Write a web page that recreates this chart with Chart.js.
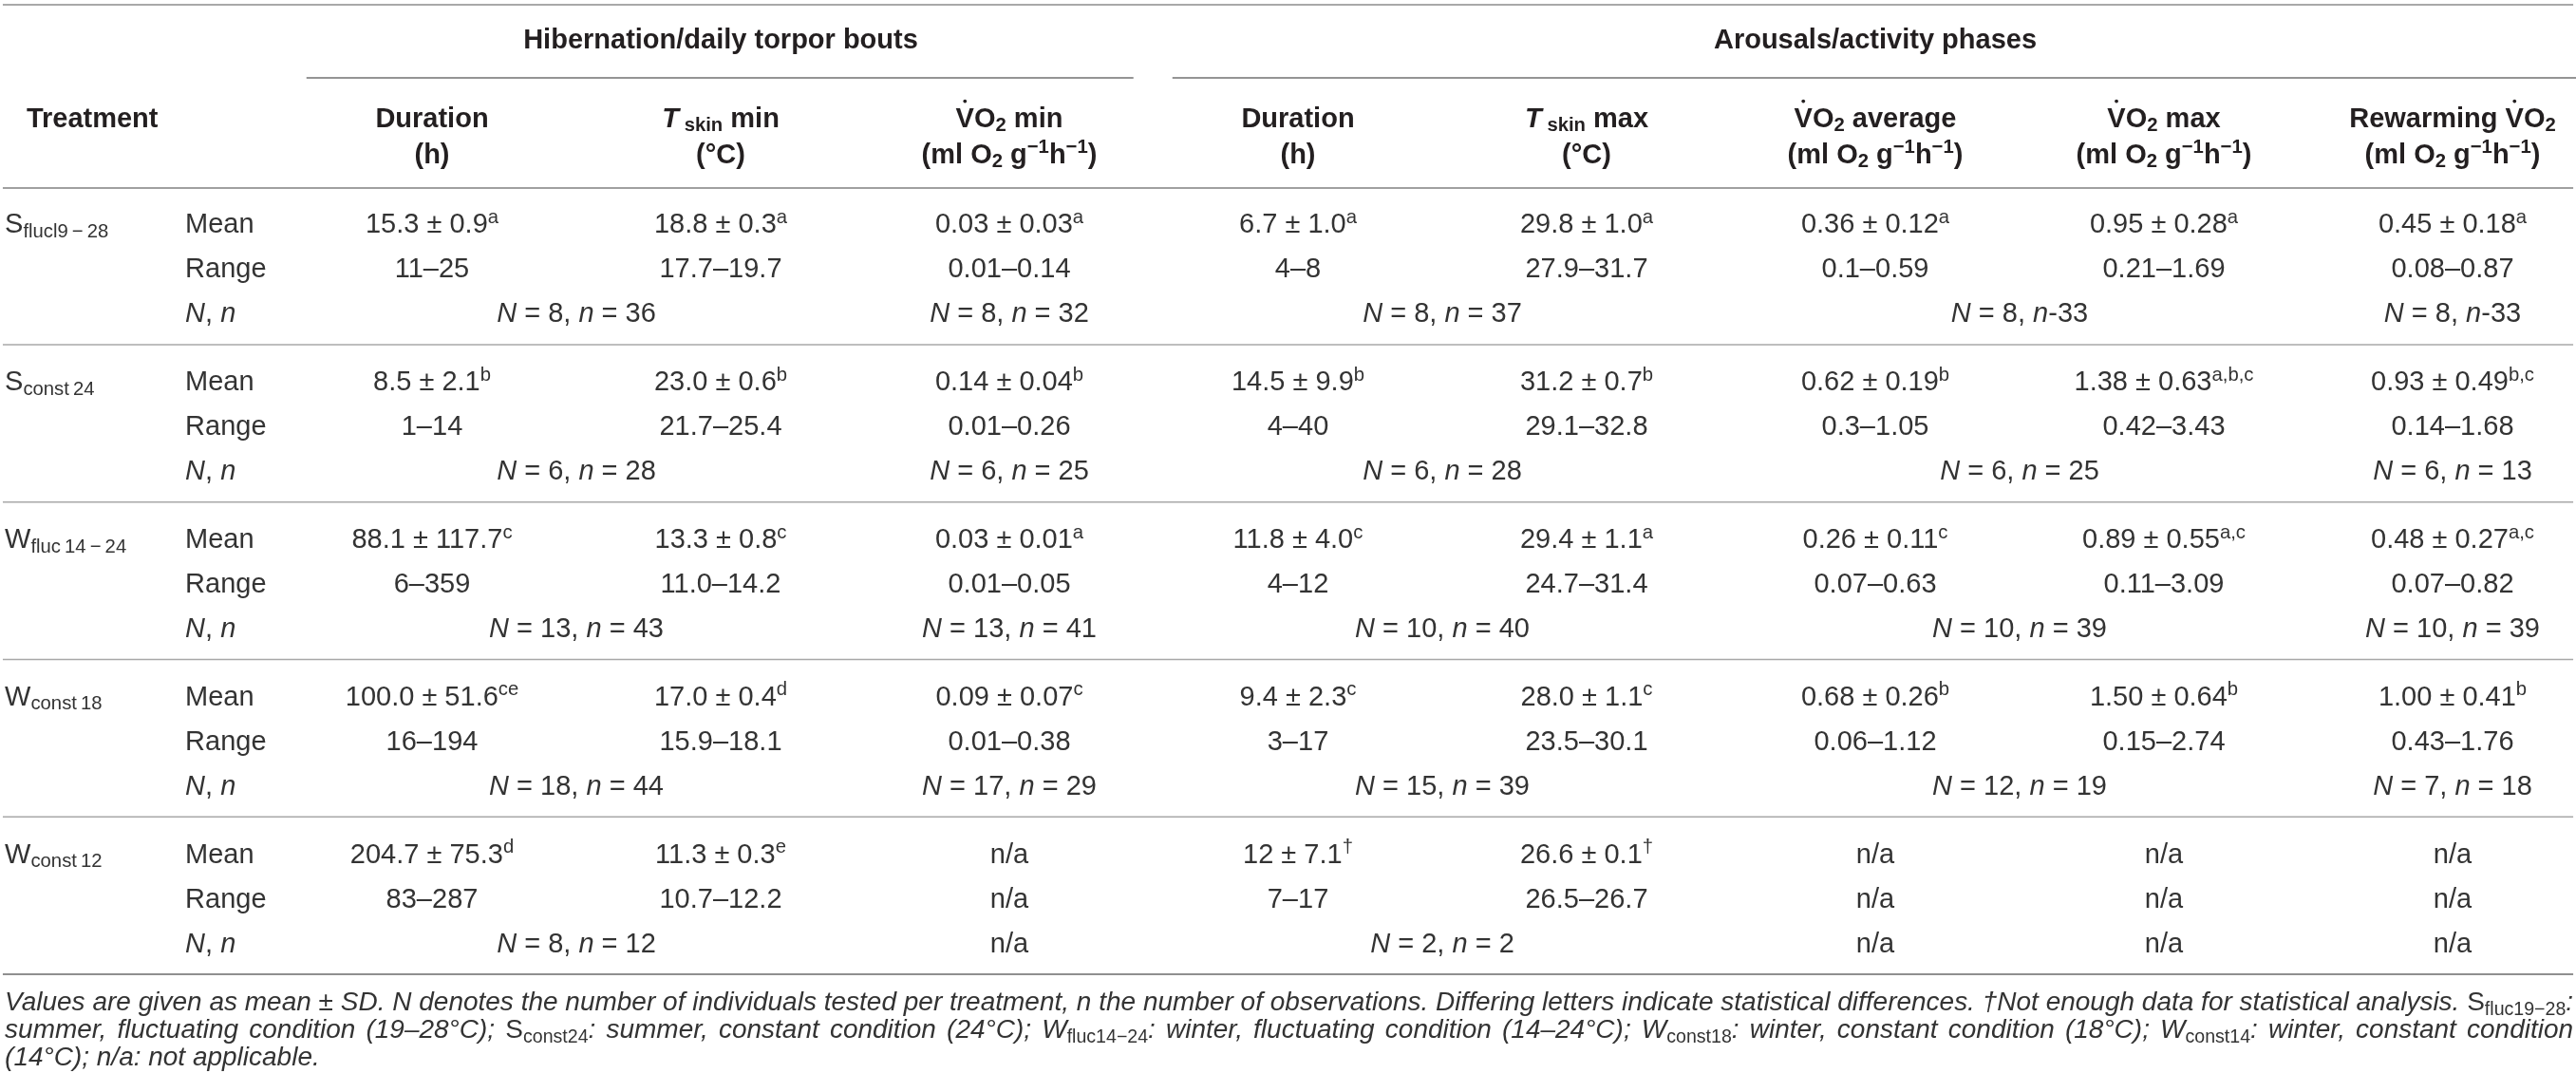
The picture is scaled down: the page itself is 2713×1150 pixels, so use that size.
<!DOCTYPE html>
<html>
<head>
<meta charset="utf-8">
<script src="https://cdn.jsdelivr.net/npm/chart.js@4.4.1/dist/chart.umd.min.js"></script>
<style>
  html, body { margin: 0; padding: 0; background: #ffffff; }
  #c { display: block; }
</style>
</head>
<body>
<canvas id="c" width="2713" height="1150"></canvas>
<script>
// ---------------- DATA ----------------
const groupTitles = [
  ['Hibernation/daily torpor bouts', 0, 2],
  ['Arousals/activity phases', 3, 7]
];
const columnHeaders = [
  ['Duration', '(h)'],
  ['<i>T</i>\u2009_{skin} min', '(°C)'],
  ['V\u0307O_{2} min', '(ml O_{2} g^{\u22121}h^{\u22121})'],
  ['Duration', '(h)'],
  ['<i>T</i>\u2009_{skin} max', '(°C)'],
  ['V\u0307O_{2} average', '(ml O_{2} g^{\u22121}h^{\u22121})'],
  ['V\u0307O_{2} max', '(ml O_{2} g^{\u22121}h^{\u22121})'],
  ['Rewarming V\u0307O_{2}', '(ml O_{2} g^{\u22121}h^{\u22121})']
];
const treatmentHeader = 'Treatment';
const treatments = [
  'S_{flucl9\u2009\u2212\u200928}',
  'S_{const\u200924}',
  'W_{fluc\u200914\u2009\u2212\u200924}',
  'W_{const\u200918}',
  'W_{const\u200912}'
];
const statLabels = ['Mean', 'Range', '<i>N</i>, <i>n</i>'];
const meanValues = [
  ['15.3 ± 0.9^{a}', '18.8 ± 0.3^{a}', '0.03 ± 0.03^{a}', '6.7 ± 1.0^{a}', '29.8 ± 1.0^{a}', '0.36 ± 0.12^{a}', '0.95 ± 0.28^{a}', '0.45 ± 0.18^{a}'],
  ['8.5 ± 2.1^{b}', '23.0 ± 0.6^{b}', '0.14 ± 0.04^{b}', '14.5 ± 9.9^{b}', '31.2 ± 0.7^{b}', '0.62 ± 0.19^{b}', '1.38 ± 0.63^{a,b,c}', '0.93 ± 0.49^{b,c}'],
  ['88.1 ± 117.7^{c}', '13.3 ± 0.8^{c}', '0.03 ± 0.01^{a}', '11.8 ± 4.0^{c}', '29.4 ± 1.1^{a}', '0.26 ± 0.11^{c}', '0.89 ± 0.55^{a,c}', '0.48 ± 0.27^{a,c}'],
  ['100.0 ± 51.6^{ce}', '17.0 ± 0.4^{d}', '0.09 ± 0.07^{c}', '9.4 ± 2.3^{c}', '28.0 ± 1.1^{c}', '0.68 ± 0.26^{b}', '1.50 ± 0.64^{b}', '1.00 ± 0.41^{b}'],
  ['204.7 ± 75.3^{d}', '11.3 ± 0.3^{e}', 'n/a', '12 ± 7.1^{†}', '26.6 ± 0.1^{†}', 'n/a', 'n/a', 'n/a']
];
const rangeValues = [
  ['11–25', '17.7–19.7', '0.01–0.14', '4–8', '27.9–31.7', '0.1–0.59', '0.21–1.69', '0.08–0.87'],
  ['1–14', '21.7–25.4', '0.01–0.26', '4–40', '29.1–32.8', '0.3–1.05', '0.42–3.43', '0.14–1.68'],
  ['6–359', '11.0–14.2', '0.01–0.05', '4–12', '24.7–31.4', '0.07–0.63', '0.11–3.09', '0.07–0.82'],
  ['16–194', '15.9–18.1', '0.01–0.38', '3–17', '23.5–30.1', '0.06–1.12', '0.15–2.74', '0.43–1.76'],
  ['83–287', '10.7–12.2', 'n/a', '7–17', '26.5–26.7', 'n/a', 'n/a', 'n/a']
];
// [text, first column, last column]
const nCounts = [
  [['<i>N</i> = 8, <i>n</i> = 36', 0, 1], ['<i>N</i> = 8, <i>n</i> = 32', 2, 2], ['<i>N</i> = 8, <i>n</i> = 37', 3, 4], ['<i>N</i> = 8, <i>n</i>-33', 5, 6], ['<i>N</i> = 8, <i>n</i>-33', 7, 7]],
  [['<i>N</i> = 6, <i>n</i> = 28', 0, 1], ['<i>N</i> = 6, <i>n</i> = 25', 2, 2], ['<i>N</i> = 6, <i>n</i> = 28', 3, 4], ['<i>N</i> = 6, <i>n</i> = 25', 5, 6], ['<i>N</i> = 6, <i>n</i> = 13', 7, 7]],
  [['<i>N</i> = 13, <i>n</i> = 43', 0, 1], ['<i>N</i> = 13, <i>n</i> = 41', 2, 2], ['<i>N</i> = 10, <i>n</i> = 40', 3, 4], ['<i>N</i> = 10, <i>n</i> = 39', 5, 6], ['<i>N</i> = 10, <i>n</i> = 39', 7, 7]],
  [['<i>N</i> = 18, <i>n</i> = 44', 0, 1], ['<i>N</i> = 17, <i>n</i> = 29', 2, 2], ['<i>N</i> = 15, <i>n</i> = 39', 3, 4], ['<i>N</i> = 12, <i>n</i> = 19', 5, 6], ['<i>N</i> = 7, <i>n</i> = 18', 7, 7]],
  [['<i>N</i> = 8, <i>n</i> = 12', 0, 1], ['n/a', 2, 2], ['<i>N</i> = 2, <i>n</i> = 2', 3, 4], ['n/a', 5, 5], ['n/a', 6, 6], ['n/a', 7, 7]]
];
const footnoteLines = [
  '<i>Values are given as mean ± SD. N denotes the number of individuals tested per treatment, n the number of observations. Differing letters indicate statistical differences. †Not enough data for statistical analysis. </i>S_{fluc19\u221228}<i>:</i>',
  '<i>summer, fluctuating condition (19–28°C); </i>S_{const24}<i>: summer, constant condition (24°C); W</i>_{fluc14\u221224}<i>: winter, fluctuating condition (14–24°C); W</i>_{const18}<i>: winter, constant condition (18°C); W</i>_{const14}<i>: winter, constant condition</i>',
  '<i>(14°C); n/a: not applicable.</i>'
];

// ---------------- LAYOUT (scale geometry) ----------------
const W = 2713, H = 1150;
const COL0_PX = 455, COL_PX = 304;     // first data column centre, column pitch
const ROW0_PX = 235, ROW_PX = 47;      // first body row centre, sub-row pitch
const GROUP_PITCH = 3.527;             // rows per treatment block
const TREAT_X = -1.480, STAT_X = -0.855, HEAD_TREAT_X = -1.405;
const LEFT_X = -1.487, RIGHT_X = 7.418;
const Y_TITLE = -4.13, Y_HEAD1 = -2.38, Y_HEAD2 = -1.57;
const Y_TOP = -4.894, Y_UNDER = -3.255, Y_HEADRULE = -0.787, SEP_OFF = 2.723;
const Y_FOOT = [17.43, 18.05, 18.65];
const rowY = (g, s) => g * GROUP_PITCH + s;

const FAMILY = '"Liberation Sans", Arial, Helvetica, sans-serif';
const SCRIPT_SCALE = 0.7;

// ---------------- RICH TEXT ----------------
function parseRich(markup) {
  const runs = [];
  let italic = false, script = 0, buf = '', saved = false;
  const push = () => { if (buf) { runs.push({ t: buf, italic, script }); buf = ''; } };
  let i = 0;
  while (i < markup.length) {
    if (markup.startsWith('<i>', i)) { push(); italic = true; i += 3; continue; }
    if (markup.startsWith('</i>', i)) { push(); italic = false; i += 4; continue; }
    if ((markup[i] === '^' || markup[i] === '_') && markup[i + 1] === '{') {
      push(); script = markup[i] === '^' ? 1 : -1; saved = italic; italic = false; i += 2; continue;
    }
    if (markup[i] === '}' && script !== 0) { push(); script = 0; italic = saved; i++; continue; }
    buf += markup[i]; i++;
  }
  push();
  return runs;
}
function fontFor(r, st) {
  const sz = r.script ? st.size * SCRIPT_SCALE : st.size;
  return (r.italic ? 'italic ' : '') + (st.bold ? 'bold ' : '') + sz + 'px ' + FAMILY;
}
function measureRuns(ctx, runs, st) {
  let w = 0, spaces = 0;
  runs.forEach(r => {
    ctx.font = fontFor(r, st);
    const clean = r.t.replace(/\u0307/g, '');
    w += ctx.measureText(clean).width;
    if (!r.script) spaces += clean.split(' ').length - 1;
  });
  return { w, spaces };
}
function drawRuns(ctx, runs, x, baseline, st, extra) {
  let cx = x;
  runs.forEach(r => {
    ctx.font = fontFor(r, st);
    const sz = r.script ? st.size * SCRIPT_SCALE : st.size;
    const y = baseline + (r.script === 1 ? -st.size * 0.36 : r.script === -1 ? st.size * 0.16 : 0);
    const pieces = r.t.split('\u0307');
    pieces.forEach((p, k) => {
      const words = p.split(' ');
      words.forEach((wd, j) => {
        if (wd) ctx.fillText(wd, cx, y);
        cx += ctx.measureText(wd).width;
        if (j < words.length - 1) cx += ctx.measureText(' ').width + (r.script ? 0 : extra);
      });
      if (k < pieces.length - 1 && p.length) {
        const lw = ctx.measureText(p[p.length - 1]).width;
        ctx.beginPath();
        ctx.arc(cx - lw / 2, y - sz * 0.93, sz * (st.bold ? 0.065 : 0.05), 0, Math.PI * 2);
        ctx.fill();
      }
    });
  });
  return cx;
}
function drawRich(ctx, markup, x, yMid, st) {
  const runs = parseRich(markup);
  const m = measureRuns(ctx, runs, st);
  let extra = 0;
  if (st.justifyTo) extra = m.spaces ? (st.justifyTo - x - m.w) / m.spaces : 0;
  const x0 = st.align === 'center' ? x - m.w / 2 : x;
  ctx.fillStyle = st.color;
  ctx.textAlign = 'left';
  ctx.textBaseline = 'alphabetic';
  drawRuns(ctx, runs, x0, yMid + st.size * 0.36, st, extra);
}

// ---------------- DATASETS ----------------
const headPts = [];
groupTitles.forEach(([t, a, b]) => headPts.push({ x: (a + b) / 2, y: Y_TITLE, t }));
columnHeaders.forEach(([l1, l2], c) => {
  headPts.push({ x: c, y: Y_HEAD1, t: l1 });
  headPts.push({ x: c, y: Y_HEAD2, t: l2 });
});
const headLeftPts = [{ x: HEAD_TREAT_X, y: Y_HEAD1, t: treatmentHeader }];

const labelPts = [];
const cellPts = [];
treatments.forEach((tr, g) => {
  labelPts.push({ x: TREAT_X, y: rowY(g, 0), t: tr });
  statLabels.forEach((s, k) => labelPts.push({ x: STAT_X, y: rowY(g, k), t: s }));
  meanValues[g].forEach((v, c) => cellPts.push({ x: c, y: rowY(g, 0), t: v }));
  rangeValues[g].forEach((v, c) => cellPts.push({ x: c, y: rowY(g, 1), t: v }));
  nCounts[g].forEach(([v, a, b]) => cellPts.push({ x: (a + b) / 2, y: rowY(g, 2), t: v }));
});
const footPts = footnoteLines.map((t, k) => ({ x: TREAT_X, y: Y_FOOT[k], t, justify: k < footnoteLines.length - 1 }));

function textDataset(label, data, style) {
  return { label, data, textStyle: style, pointRadius: 0, pointHoverRadius: 0, showLine: false, clip: false };
}
function rule(y, x1, x2, color, width) {
  return { label: 'rule', data: [{ x: x1, y }, { x: x2, y }], showLine: true, borderColor: color,
           borderWidth: width, pointRadius: 0, fill: false, clip: false };
}
const rules = [
  rule(Y_TOP, LEFT_X, RIGHT_X, '#a9a9a9', 2),
  rule(Y_UNDER, groupTitles[0][1] - 0.435, groupTitles[0][2] + 0.43, '#707070', 1.6),
  rule(Y_UNDER, groupTitles[1][1] - 0.435, groupTitles[1][2] + 0.43, '#707070', 1.6),
  rule(Y_HEADRULE, LEFT_X, RIGHT_X, '#a0a0a0', 2)
];
treatments.forEach((t, g) => {
  const last = g === treatments.length - 1;
  rules.push(rule(g * GROUP_PITCH + SEP_OFF, LEFT_X, RIGHT_X, last ? '#8f8f8f' : '#a8a8a8', last ? 2 : 1.5));
});

const headStyle = { size: 29, bold: true, align: 'center', color: '#231f20' };
const datasets = [
  ...rules,
  textDataset('headers', headPts, headStyle),
  textDataset('headersLeft', headLeftPts, { ...headStyle, align: 'left' }),
  textDataset('labels', labelPts, { size: 29, bold: false, align: 'left', color: '#333333' }),
  textDataset('cells', cellPts, { size: 29, bold: false, align: 'center', color: '#333333' }),
  textDataset('footnotes', footPts, { size: 28, bold: false, align: 'left', color: '#333333', foot: true })
];

const tableTextPlugin = {
  id: 'tableText',
  afterDatasetsDraw(chart) {
    const ctx = chart.ctx;
    ctx.save();
    chart.data.datasets.forEach((ds, di) => {
      if (!ds.textStyle) return;
      const meta = chart.getDatasetMeta(di);
      let st = ds.textStyle;
      if (st.foot) {
        // size the justified footnote lines so they fill the table width
        const right = chart.scales.x.getPixelForValue(RIGHT_X);
        let size = st.size;
        ds.data.forEach((d, i) => {
          if (!d.justify) return;
          const m = measureRuns(ctx, parseRich(d.t), { ...st, size: st.size });
          const avail = right - meta.data[i].x;
          size = Math.min(size, st.size * avail / m.w);
        });
        st = { ...st, size };
        ds.data.forEach((d, i) => {
          const el = meta.data[i];
          drawRich(ctx, d.t, el.x, el.y, { ...st, justifyTo: d.justify ? right : 0 });
        });
        return;
      }
      meta.data.forEach((el, i) => drawRich(ctx, ds.data[i].t, el.x, el.y, st));
    });
    ctx.restore();
  }
};

new Chart(document.getElementById('c'), {
  type: 'scatter',
  data: { datasets },
  options: {
    responsive: false,
    devicePixelRatio: 1,
    animation: false,
    events: [],
    layout: { padding: 0 },
    plugins: { legend: { display: false }, tooltip: { enabled: false } },
    scales: {
      x: { type: 'linear', display: false, min: -COL0_PX / COL_PX, max: (W - COL0_PX) / COL_PX },
      y: { type: 'linear', display: false, reverse: true, min: -ROW0_PX / ROW_PX, max: (H - ROW0_PX) / ROW_PX }
    }
  },
  plugins: [tableTextPlugin]
});
</script>
</body>
</html>
